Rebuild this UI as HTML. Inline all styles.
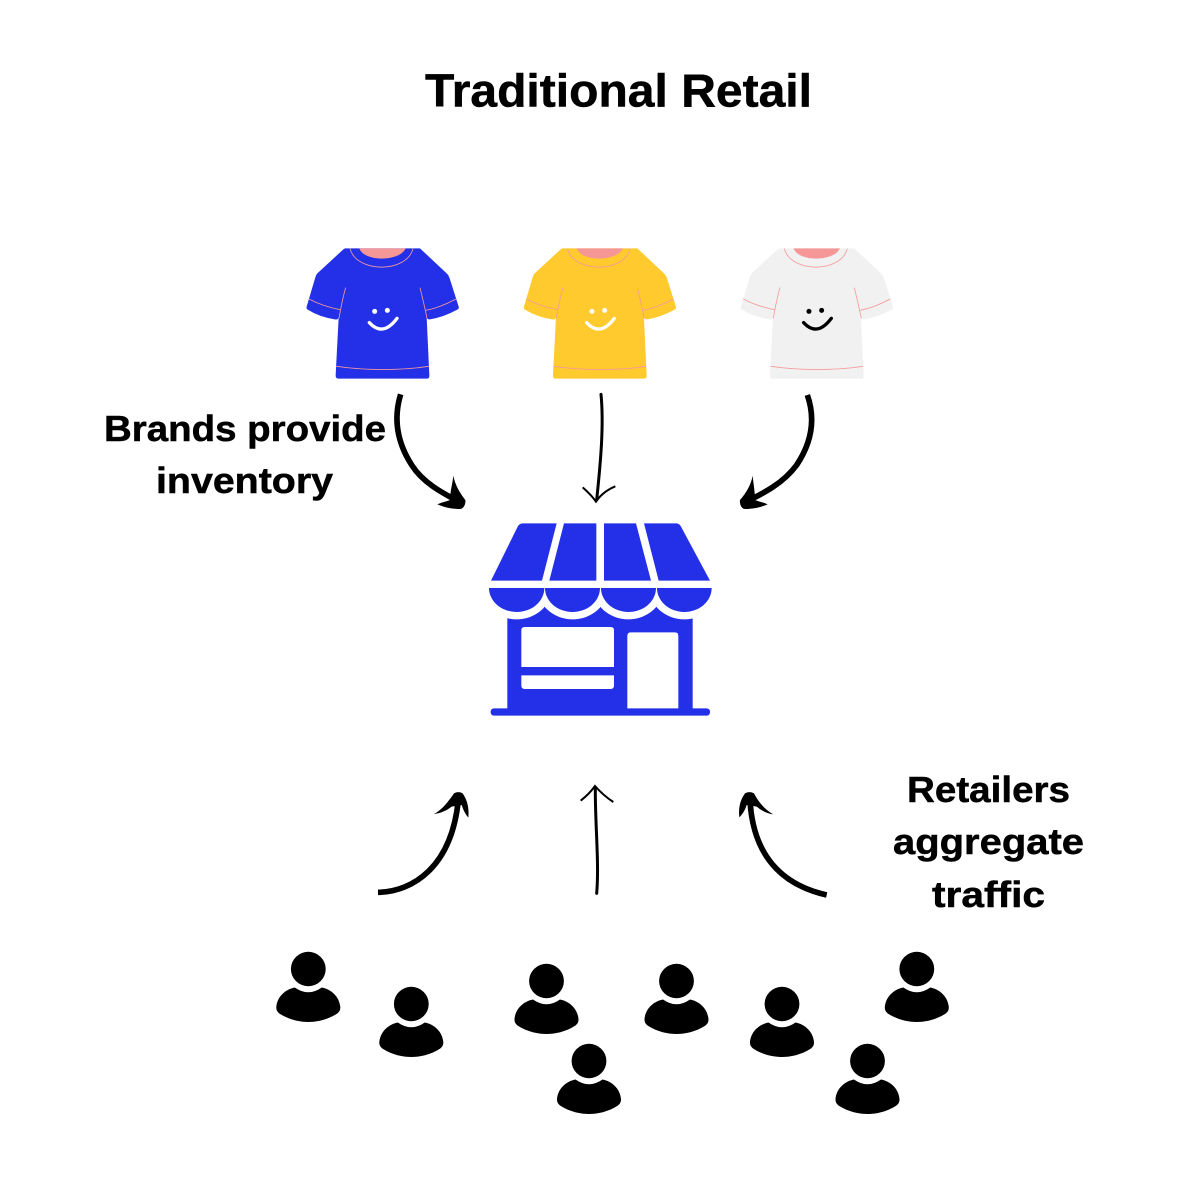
<!DOCTYPE html>
<html>
<head>
<meta charset="utf-8">
<title>Traditional Retail</title>
<style>
html,body{margin:0;padding:0;background:#fff}
svg{display:block}
text{font-family:"Liberation Sans",sans-serif;font-weight:700;fill:#000;stroke:#000;stroke-width:.5px}
</style>
</head>
<body>
<svg xmlns="http://www.w3.org/2000/svg" width="1200" height="1200" viewBox="0 0 1200 1200">
<defs>
<g id="p">
<ellipse cx="0" cy="0" rx="17.4" ry="17.2"/>
<path d="M-13.5 18.5 Q0 28 13.5 18.5 C22 20 31 27 32 38 Q32.3 42 29 44.5 C19 51 8 53 0 53 C-8 53 -19 51 -29 44.5 Q-32.3 42 -32 38 C-31 27 -22 20 -13.5 18.5Z"/>
</g>
<g id="seams" fill="none" stroke="#f59a9a" stroke-width="2.5">
<path d="M180 26 C200 100 350 100 369 26"/>
<path d="M57 177 C85 192 120 203 150 209"/>
<path d="M498 177 C470 192 440 205 408 211"/>
<path d="M167 143 C158 175 152 205 147 235"/>
<path d="M390 143 C398 175 405 205 411 235"/>
<path d="M139 379 C230 392 330 392 417 379"/>
</g>
<path id="neck" d="M208 25 C222 66 328 66 347 25Z" fill="#f59797"/>
<path id="shirt" d="M165 25 L390 25 L470 100 Q475 104 478 112 L506 200 Q508 206 502 209 Q460 232 420 238 Q412 239 410 232 L418 405 Q419 416 410 416 L146 416 Q136 416 137 405 L146 232 Q144 240 135 238 Q90 232 53 209 Q48 206 50 200 L76 112 Q78 104 82 100 L158 30Q162 26 165 25Z"/>
</defs>

<text x="425" y="106.7" font-size="46" textLength="387" lengthAdjust="spacingAndGlyphs">Traditional Retail</text>
<text x="104" y="441" font-size="36" textLength="282" lengthAdjust="spacingAndGlyphs">Brands provide</text>
<text x="156" y="493" font-size="36" textLength="177" lengthAdjust="spacingAndGlyphs">inventory</text>
<text x="907" y="802" font-size="36" textLength="163" lengthAdjust="spacingAndGlyphs">Retailers</text>
<text x="893" y="854" font-size="36" textLength="191" lengthAdjust="spacingAndGlyphs">aggregate</text>
<text x="932" y="907" font-size="36" textLength="113" lengthAdjust="spacingAndGlyphs">traffic</text>

<!-- shirts -->
<g transform="translate(290 240) scale(.33333)">
<use href="#shirt" fill="#2330e8"/><use href="#neck"/><use href="#seams"/>
<circle cx="254" cy="214" r="7.5" fill="#fff"/><circle cx="292" cy="211" r="7.5" fill="#fff"/>
<path d="M238 248 Q278 292 321 235" fill="none" stroke="#fff" stroke-width="10" stroke-linecap="round"/>
</g>
<g transform="translate(507.3 240) scale(.33333)">
<use href="#shirt" fill="#ffca2e"/><use href="#neck"/><use href="#seams"/>
<circle cx="254" cy="214" r="7.5" fill="#fff"/><circle cx="292" cy="211" r="7.5" fill="#fff"/>
<path d="M238 248 Q278 292 321 235" fill="none" stroke="#fff" stroke-width="10" stroke-linecap="round"/>
</g>
<g transform="translate(724.3 240) scale(.33333)">
<use href="#shirt" fill="#f1f1f1"/><use href="#neck"/><use href="#seams"/>
<circle cx="254" cy="214" r="7.5" fill="#000"/><circle cx="292" cy="211" r="7.5" fill="#000"/>
<path d="M238 248 Q278 292 321 235" fill="none" stroke="#000" stroke-width="10" stroke-linecap="round"/>
</g>

<!-- top arrows -->
<g transform="translate(380 385) scale(.33333)">
<path d="M62 28 C40 100 50 170 95 240 C130 295 190 325 240 352" fill="none" stroke="#000" stroke-width="17" stroke-linecap="butt"/>
<path d="M220 272 C225 300 240 325 256 345 C258 358 250 372 240 372 C220 372 195 368 172 358 C185 352 198 350 210 345 C210 320 218 295 220 272Z"/>
<path d="M663 28 C672 120 662 230 650 345" fill="none" stroke="#000" stroke-width="9" stroke-linecap="round"/>
<path d="M608 307 C625 322 640 338 648 350 C660 332 680 315 706 304" fill="none" stroke="#000" stroke-width="6"/>
<path d="M1282 30 C1310 110 1290 180 1250 240 C1210 295 1150 325 1095 352" fill="none" stroke="#000" stroke-width="17" stroke-linecap="butt"/>
<path d="M1118 272 C1113 300 1098 325 1080 345 C1078 358 1085 372 1095 372 C1115 372 1140 368 1163 358 C1150 352 1137 350 1125 345 C1125 320 1120 295 1118 272Z"/>
</g>

<!-- store -->
<g transform="translate(480 515) scale(.33333)">
<rect x="82" y="250" width="556" height="340" fill="#2330e8"/>
<rect x="32" y="580" width="658" height="22" rx="10" fill="#2330e8"/>
<g fill="#fff">
<ellipse cx="110" cy="219" rx="105" ry="94"/>
<ellipse cx="278" cy="219" rx="105" ry="94"/>
<ellipse cx="445" cy="219" rx="105" ry="94"/>
<ellipse cx="613" cy="219" rx="105" ry="94"/>
<rect x="0" y="100" width="720" height="119"/>
<path d="M124 456 V346 Q124 336 134 336 H392 Q402 336 402 346 V456Z"/>
<path d="M124 481 H402 V512 Q402 522 392 522 H134 Q124 522 124 512Z"/>
<path d="M442 580 V362 Q442 352 452 352 H585 Q595 352 595 362 V580Z"/>
</g>
<g fill="#2330e8">
<path d="M27 219 H193 A83 72 0 0 1 27 219Z"/>
<path d="M195 219 H360 A82.5 72 0 0 1 195 219Z"/>
<path d="M363 219 H528 A82.5 72 0 0 1 363 219Z"/>
<path d="M531 219 H695 A82 72 0 0 1 531 219Z"/>
<path d="M113 35 Q118 25 128 25 H230 L186 197 H33Z"/>
<path d="M252 25 H349 V197 H208Z"/>
<path d="M372 25 H468 L513 197 H372Z"/>
<path d="M492 25 H590 Q598 25 603 35 L690 197 H536Z"/>
</g>
</g>

<!-- bottom arrows -->
<g transform="translate(370 780) scale(.33333)">
<path d="M24 337 C130 335 245 260 265 60" fill="none" stroke="#000" stroke-width="17" stroke-linecap="butt"/>
<path d="M192 102 C215 90 235 65 252 40 Q265 33 278 40 C292 60 298 85 295 113 C285 100 280 90 275 75 L245 80 C230 92 212 100 192 102Z"/>
<path d="M680 340 C688 250 675 130 676 25" fill="none" stroke="#000" stroke-width="9" stroke-linecap="round"/>
<path d="M632 62 C650 48 665 32 675 18 C690 35 708 52 730 66" fill="none" stroke="#000" stroke-width="6"/>
<path d="M1370 345 C1260 320 1150 250 1140 60" fill="none" stroke="#000" stroke-width="17" stroke-linecap="butt"/>
<path d="M1210 103 C1185 90 1165 65 1152 40 Q1138 33 1125 40 C1110 60 1105 85 1108 112 C1120 100 1125 90 1130 75 L1160 80 C1175 92 1192 102 1210 103Z"/>
</g>

<!-- people -->
<use href="#p" x="308.3" y="969"/>
<use href="#p" x="411.3" y="1004"/>
<use href="#p" x="546.5" y="981"/>
<use href="#p" x="676.5" y="981"/>
<use href="#p" x="782" y="1004"/>
<use href="#p" x="916.8" y="969"/>
<use href="#p" x="589" y="1061"/>
<use href="#p" x="867.5" y="1061"/>
</svg>
</body>
</html>
